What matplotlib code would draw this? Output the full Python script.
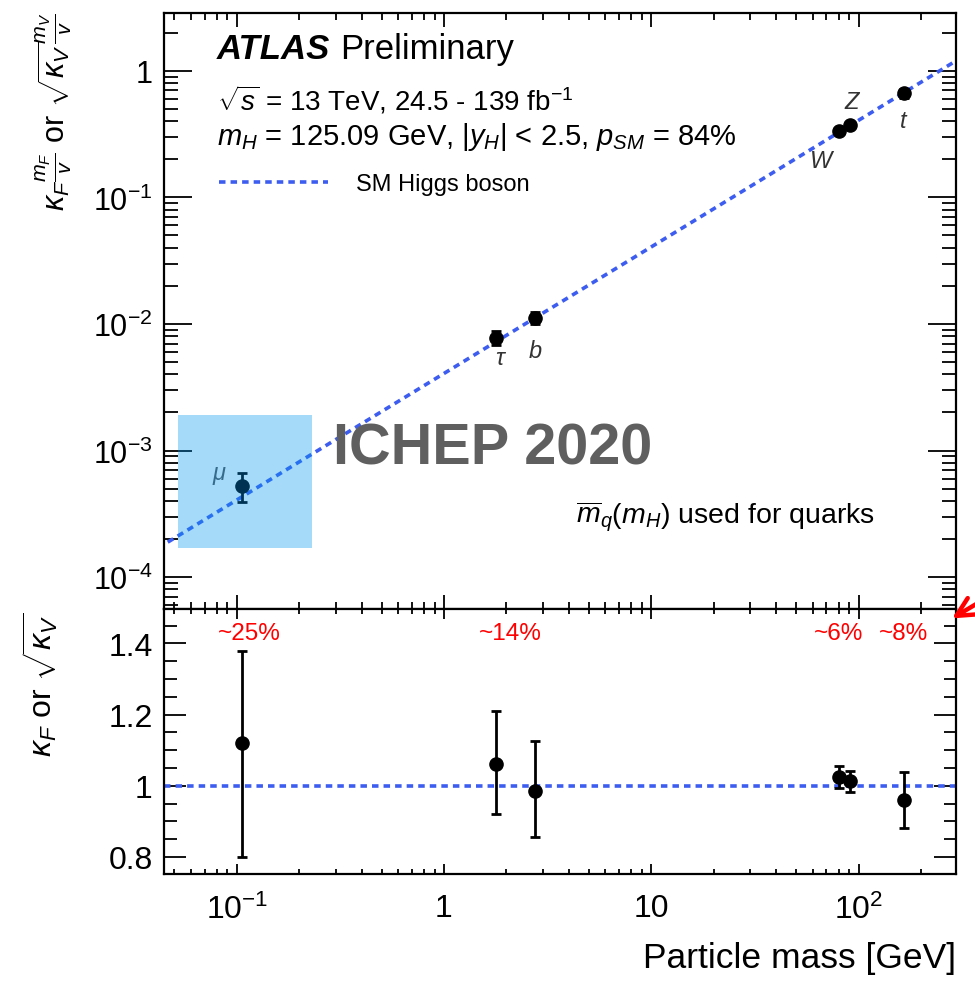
import numpy as np
import matplotlib
matplotlib.use("Agg")
import matplotlib.pyplot as plt
import matplotlib.patches as mpatches
from matplotlib.ticker import FixedLocator, LogLocator, MultipleLocator, NullFormatter

plt.rcParams['font.family'] = ['Liberation Sans', 'DejaVu Sans']
plt.rcParams['mathtext.fontset'] = 'custom'
plt.rcParams['mathtext.rm'] = 'Liberation Sans'
plt.rcParams['mathtext.it'] = 'Liberation Sans:italic'
plt.rcParams['mathtext.bf'] = 'Liberation Sans:bold'

# particles: mu, tau, b, W, Z, t
names = ['$\\mu$', '$\\tau$', '$b$', '$W$', '$Z$', '$t$']
mass = np.array([0.1057, 1.777, 2.76, 80.4, 91.19, 165.0])
# top panel: kappa_F * m_F / v  or  sqrt(kappa_V) * m_V / v
reduced = np.array([5.2e-4, 7.8e-3, 1.12e-2, 0.335, 0.372, 0.665])
reduced_up = np.array([1.5e-4, 1.0e-3, 1.3e-3, 0.012, 0.012, 0.05])
reduced_dn = np.array([1.3e-4, 1.0e-3, 1.3e-3, 0.012, 0.012, 0.05])
# bottom panel: kappa_F or sqrt(kappa_V)
kappa = np.array([1.12, 1.06, 0.985, 1.025, 1.012, 0.96])
kappa_up = np.array([0.26, 0.15, 0.14, 0.03, 0.03, 0.08])
kappa_dn = np.array([0.32, 0.14, 0.13, 0.03, 0.03, 0.08])

precision_text = ['~25%', '~14%', '~6%', '~8%']
precision_mass = [0.115, 2.08, 80.0, 165.0]

vev = 246.22
sm_mass = np.array([0.03, 400.0])

blue = '#3d5df0'
dots = (0, (1.8, 1.4))
xlim = (0.0445, 295)

fig = plt.figure(figsize=(9.75, 9.87), dpi=100)
ax1 = fig.add_axes([0.168, 0.382, 0.8125, 0.6038])
ax2 = fig.add_axes([0.168, 0.1135, 0.8125, 0.2685])

# ---- top panel
ax1.plot(sm_mass, sm_mass / vev, linestyle=dots, color=blue, lw=2.6,
         label='SM Higgs boson', zorder=2)
ax1.errorbar(mass, reduced, yerr=[reduced_dn, reduced_up], fmt='o', color='black',
             ms=9.5, lw=2, capsize=3.5, capthick=2, zorder=3)
ax1.set_xscale('log')
ax1.set_yscale('log')
ax1.set_xlim(xlim)
ax1.set_ylim(5.6e-5, 2.86)

lab_off = [(-16, 8), (4, -15), (0, -24), (-12, -22), (2, 17), (0, -20)]
for n, m, r, off in zip(names, mass, reduced, lab_off):
    ax1.annotate(n, (m, r), xytext=off, textcoords='offset points', fontsize=17,
                 color='#333333' if n != '$\\mu$' else '#555555',
                 ha='center', va='center')

atl = ax1.text(0.067, 0.94, 'ATLAS', transform=ax1.transAxes, fontsize=25,
               fontweight='bold', fontstyle='italic', va='center')
ax1.annotate('Preliminary', xy=(1, 0), xycoords=atl, xytext=(7, 0),
             textcoords='offset points', fontsize=25, va='bottom')
ax1.text(0.067, 0.856, r'$\sqrt{s}$ = 13 TeV, 24.5 - 139 fb$^{-1}$', transform=ax1.transAxes,
         fontsize=20, va='center')
ax1.text(0.067, 0.794, r'$m_H$ = 125.09 GeV, |$y_H$| < 2.5, $p_{SM}$ = 84%', transform=ax1.transAxes,
         fontsize=21, va='center')
ax1.text(0.898, 0.156, r'$\overline{m}_q(m_H)$ used for quarks', transform=ax1.transAxes,
         fontsize=20.5, va='center', ha='right')
ax1.legend(loc='center left', bbox_to_anchor=(0.058, 0.713), frameon=False, fontsize=17,
           handlelength=4.6, handletextpad=1.2, borderaxespad=0)

ax1.yaxis.set_major_locator(FixedLocator([1e-4, 1e-3, 1e-2, 1e-1, 1]))
ax1.set_yticklabels(['$10^{-4}$', '$10^{-3}$', '$10^{-2}$', '$10^{-1}$', '1'])
ax1.yaxis.set_minor_locator(LogLocator(base=10, subs=np.arange(2, 10), numticks=20))
ax1.yaxis.set_minor_formatter(NullFormatter())
ax1.xaxis.set_major_locator(FixedLocator([0.1, 1, 10, 100]))
ax1.xaxis.set_minor_locator(LogLocator(base=10, subs=np.arange(2, 10), numticks=20))
ax1.tick_params(labelbottom=False)
ax1.xaxis.set_minor_formatter(NullFormatter())
ax1.tick_params(axis='y', which='major', direction='in', length=20, width=1.3, labelsize=22,
                left=True, right=True, pad=8)
ax1.tick_params(axis='y', which='minor', direction='in', length=10, width=1.3, left=True, right=True)
ax1.tick_params(axis='x', which='major', direction='in', length=10, width=1.3, top=True, bottom=True)
ax1.tick_params(axis='x', which='minor', direction='in', length=5, width=1.3, top=True, bottom=True)

# ---- bottom panel
ax2.axhline(1.0, linestyle=dots, color=blue, lw=2.6, zorder=2)
ax2.errorbar(mass, kappa, yerr=[kappa_dn, kappa_up], fmt='o', color='black',
             ms=9.5, lw=2, capsize=3.5, capthick=2, zorder=3)
ax2.set_xscale('log')
ax2.set_xlim(xlim)
ax2.set_ylim(0.752, 1.497)
for t, m in zip(precision_text, precision_mass):
    ax2.text(m, 1.43, t, color='red', fontsize=17.5, ha='center', va='center')

ax2.xaxis.set_major_locator(FixedLocator([0.1, 1, 10, 100]))
ax2.set_xticklabels(['$10^{-1}$', '1', '10', '$10^{2}$'])
ax2.xaxis.set_minor_locator(LogLocator(base=10, subs=np.arange(2, 10), numticks=20))
ax2.xaxis.set_minor_formatter(NullFormatter())
ax2.yaxis.set_major_locator(FixedLocator([0.8, 1.0, 1.2, 1.4]))
ax2.set_yticklabels(['0.8', '1', '1.2', '1.4'])
ax2.yaxis.set_minor_locator(MultipleLocator(0.05))
ax2.tick_params(axis='y', which='major', direction='in', length=16, width=1.3, labelsize=23,
                left=True, right=True, pad=8)
ax2.tick_params(axis='y', which='minor', direction='in', length=9, width=1.3, left=True, right=True)
ax2.tick_params(axis='x', which='major', direction='in', length=7, width=1.3, labelsize=23,
                top=True, bottom=True, pad=14)
ax2.tick_params(axis='x', which='minor', direction='in', length=3.5, width=1.3, top=True, bottom=True)

for ax in (ax1, ax2):
    for s in ax.spines.values():
        s.set_linewidth(1.6)

ax2.set_xlabel('Particle mass [GeV]', fontsize=25.5, ha='right', x=1.0, labelpad=12)

fig.text(0.055, 0.987, r'$\kappa_F\frac{m_F}{v}$ or $\sqrt{\kappa_V}\frac{m_V}{v}$', rotation=90,
         fontsize=22, ha='center', va='top')
fig.text(0.041, 0.380, r'$\kappa_F$ or $\sqrt{\kappa_V}$', rotation=90,
         fontsize=23, ha='center', va='top')

# ICHEP overlay
fig.add_artist(mpatches.Rectangle((0.1826, 0.4438), 0.1374, 0.1348, transform=fig.transFigure,
                                  facecolor='#0095f0', alpha=0.35, edgecolor='none', zorder=10))
fig.text(0.3415, 0.545, 'ICHEP 2020', fontsize=41.5, fontweight='bold', color='#5f5f5f',
         va='center', ha='left', zorder=11)
fig.add_artist(mpatches.FancyArrowPatch((1.02, 0.398), (0.974, 0.371), transform=fig.transFigure,
                                        arrowstyle='->', mutation_scale=34, color='red', lw=3.2,
                                        zorder=12))

fig.savefig('out.png', dpi=100)
